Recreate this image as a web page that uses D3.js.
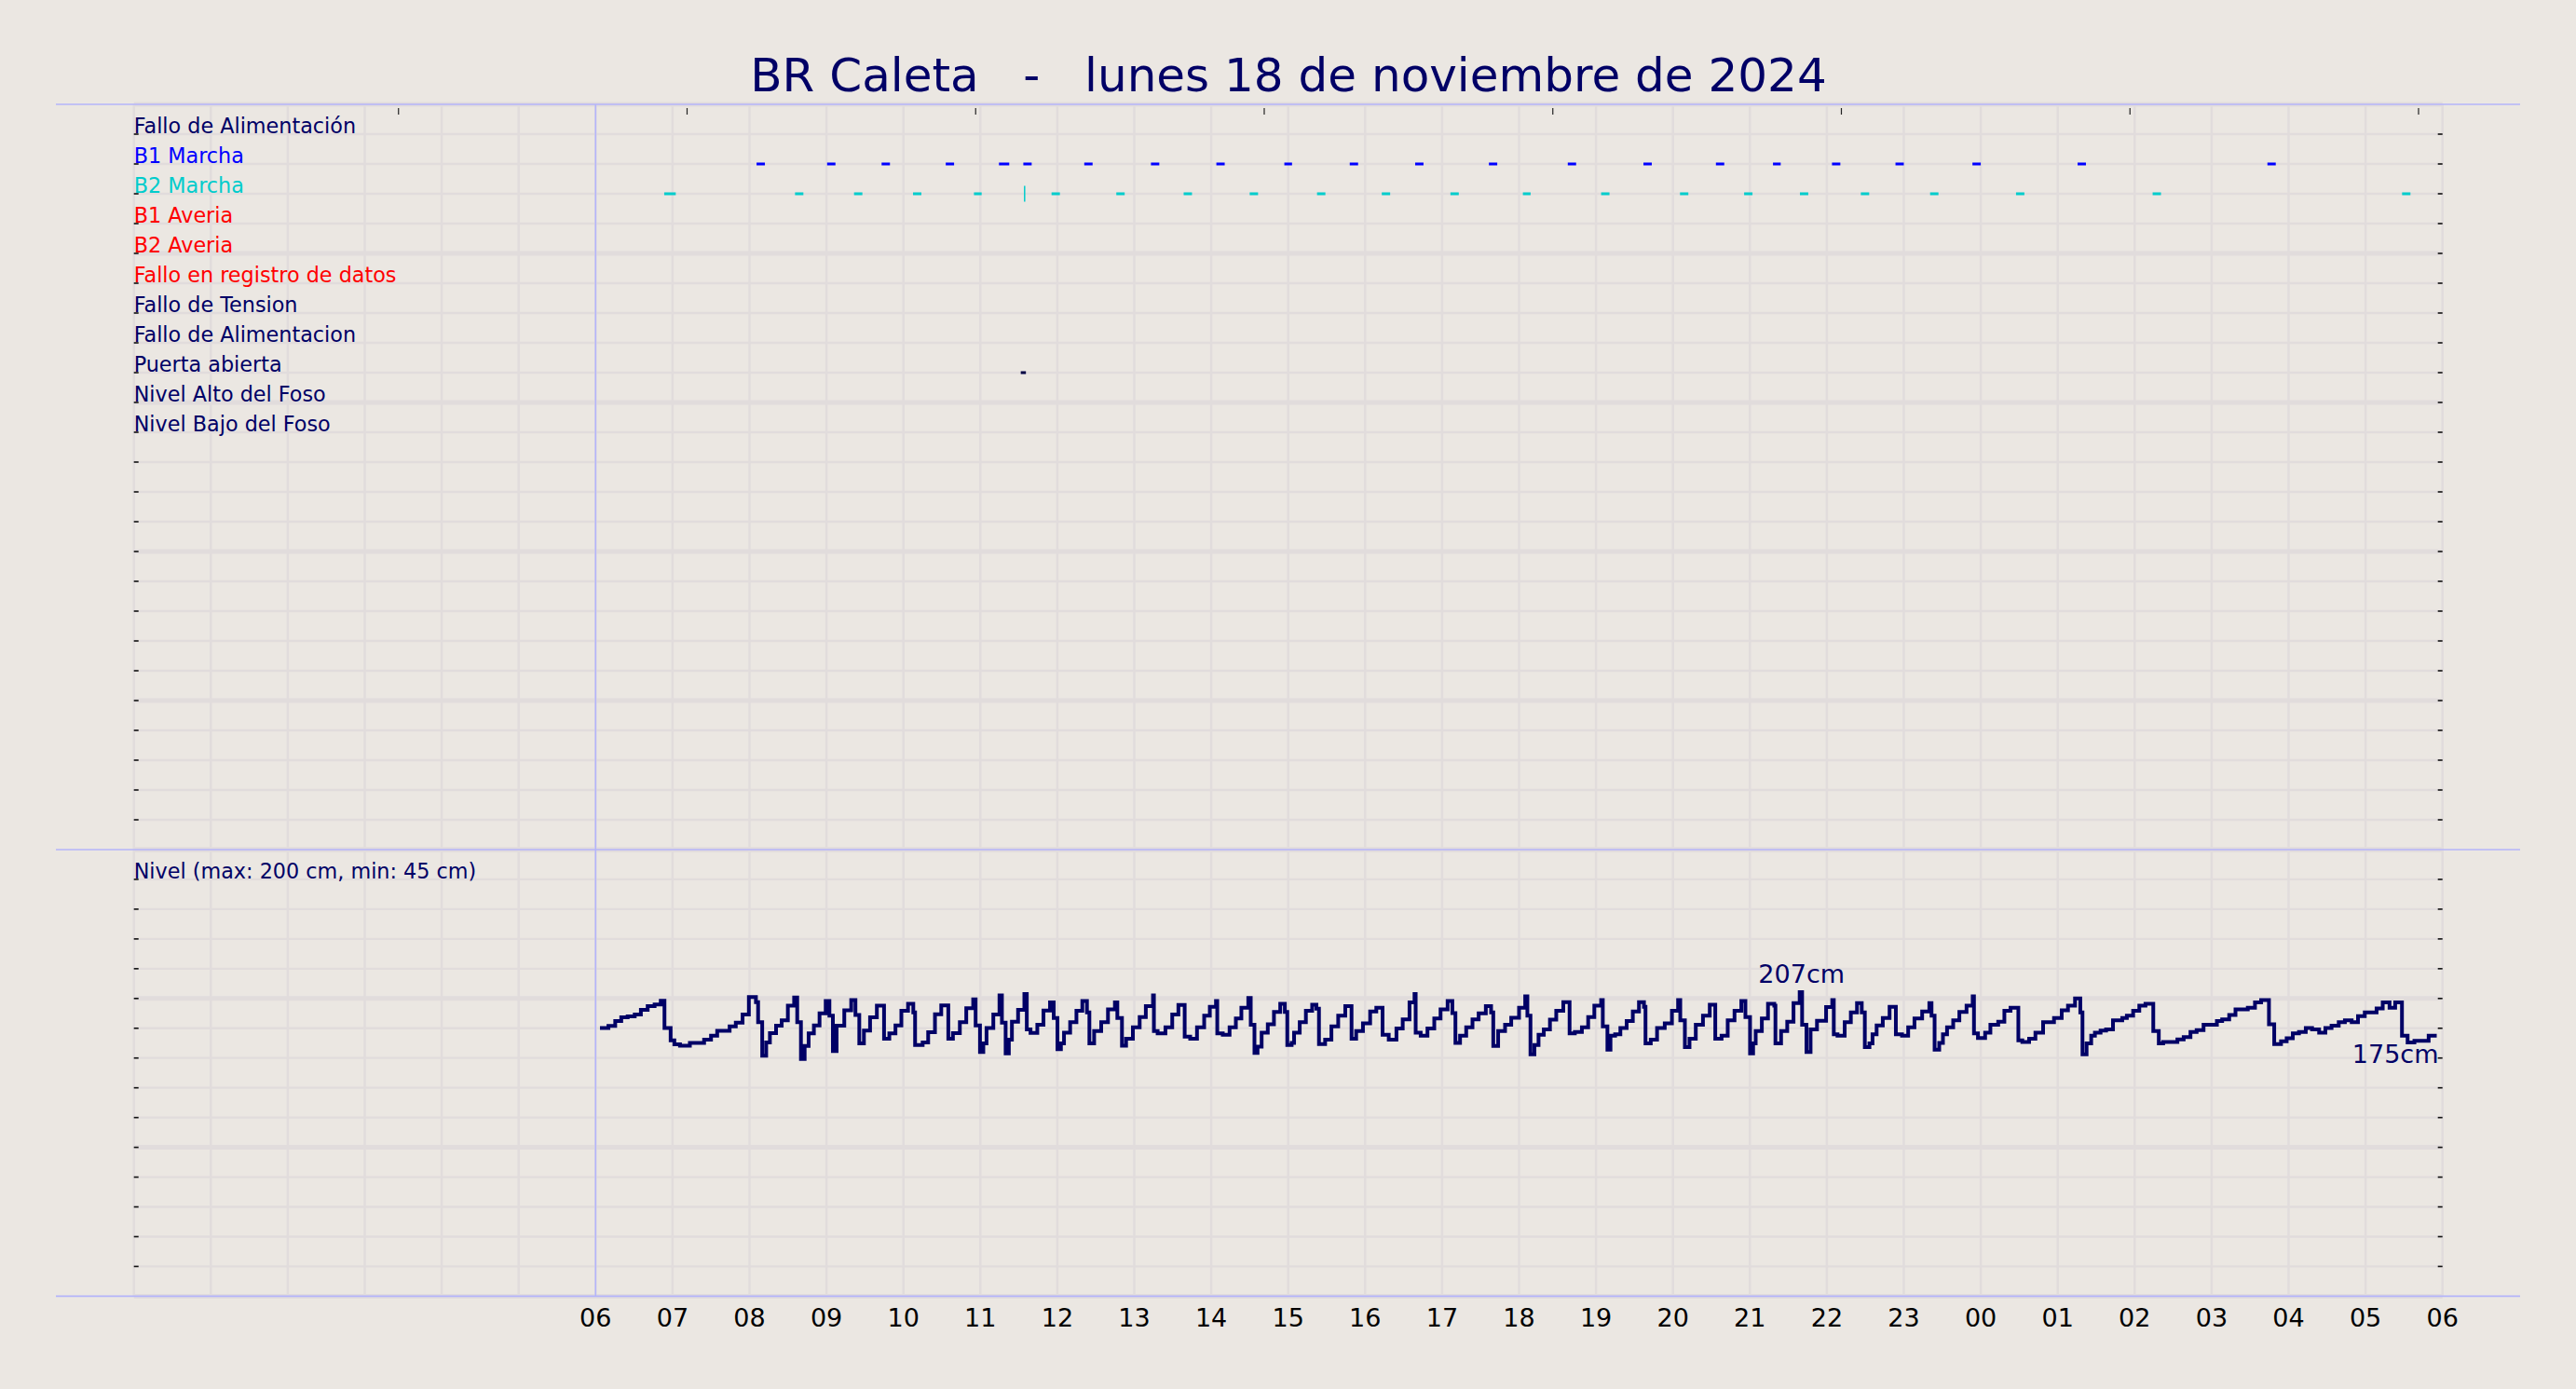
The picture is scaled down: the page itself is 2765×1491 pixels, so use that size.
<!DOCTYPE html>
<html><head><meta charset="utf-8">
<script src="https://cdn.jsdelivr.net/npm/d3@7"></script>
<style>
html,body{margin:0;padding:0;background:#ebe7e2;}
svg{display:block;font-family:"DejaVu Sans",sans-serif;}
</style></head><body>
<svg id="chart" width="2765" height="1491"></svg>
<script>
// ---------------- DATA ----------------
const titleText = "BR Caleta   -   lunes 18 de noviembre de 2024";
const signalLabels = ["Fallo de Alimentación","B1 Marcha","B2 Marcha","B1 Averia","B2 Averia",
  "Fallo en registro de datos","Fallo de Tension","Fallo de Alimentacion","Puerta abierta",
  "Nivel Alto del Foso","Nivel Bajo del Foso"];
const signalColors = ["#000066","#0000ff","#00cccc","#ff0000","#ff0000","#ff0000",
  "#000066","#000066","#000066","#000066","#000066"];
const hourTickLabels = ["06","07","08","09","10","11","12","13","14","15","16","17","18",
  "19","20","21","22","23","00","01","02","03","04","05","06"];
const topTickValues = [0.917,1.917,2.917,3.917,4.917,5.917,6.917,7.917];

// events: minutes after 06:00
const b1Start = [125.5,180.5,223,273,314.5,333.5,381,433,484,537,588,639,696.5,758,817,873.5,918,964,1013.5,1073.5,1155.5,1303.5];
const b1End   = [132,187,229.5,279.5,322.5,340,387.5,439.5,490.5,543,594.5,645.5,703,764.5,823.5,880,924,970.5,1020,1080,1162,1310];
const b2Start = [53.5,155.5,201.5,247.5,295,334.5,355.5,406,458.5,510,562.5,613,666.5,723,784,845.5,895.5,939,986.5,1040.5,1107.5,1214,1408.5];
const b2End   = [62.5,162,208,254,301,334.5,362,412.5,465,516.5,569,619.5,673,729,790.5,852,902,945.5,993,1047,1114,1220.5,1415];
const doorStart = [331.5];
const doorEnd   = [335.5];

// level (cm), change points in minutes after 06:00
const levelMin = [3.4,10,15.3,20,25,30.5,35.3,40.6,46,50.8,53.7,58.5,61.4,65.8,73.5,84.6,90,94.8,104.5,109.3,114.6,119.5,125,126.7,129.9,133,135.9,140.7,145.1,149.9,154.8,157.2,160.1,163,166.1,170.2,174.6,179.4,182.3,185,187.9,193.9,199.3,202.6,205.6,209.2,214,219.3,224.9,229,233.8,238.4,
243.6,247.7,249.1,255,259.3,264.6,269.5,275,278.6,284,289,294.4,296.3,299.7,302.3,304.8,310.1,314.9,316.8,319.7,322.2,324.6,329.4,334.3,336.2,339.1,344.4,349.2,354.3,357.2,360.1,362.8,365.2,370,374.9,379.5,383.1,385,388.7,394.2,399.5,404.9,406.8,410.4,413.6,418.9,424.2,429,434.6,435.3,438.2,444.3,449.6,454.4,459.3,463.6,468.9,474.5,
478.9,483.7,484.7,489,494.3,499.2,503.5,508.9,510.8,513.7,516.1,519.3,524.1,528.9,533.8,537.4,539.3,542.7,544.6,549,553.8,558.7,562,564,568.8,573.7,579,584.5,589.4,593,598.3,603.9,608.7,613.6,618.4,624.4,629.3,634.6,638.5,639.4,643.3,648.6,653.9,658.8,664.3,668,670.4,674,678.8,683.7,688.5,694.1,698.2,699.9,703.7,709.1,713.9,
720,724.8,726.5,728.9,732,735.2,739.3,744.1,749,754.5,759.4,763.5,769,773.9,778.7,784,785.3,788.9,791.3,794.9,799,803.9,808.7,813.5,817.4,818.6,822.7,827.6,833.6,839.2,844,845.7,849.3,852.9,857.8,863.4,868.7,873,877.9,882.7,888,893.3,896.5,900.1,902.5,904.5,909.3,914.1,919,919.9,924.3,929.1,934,938.8,940.7,944.1,947.3,952.3,
959.4,964.2,965.4,968.3,973.9,978.7,983.5,987.2,989.6,993.2,995.6,998.8,1003.6,1008.9,1013.8,1018.6,1023.4,1028.3,1034.3,1039.9,1041.6,1044,1047.6,1050.5,1053.7,1058.5,1063.3,1068.9,1073.7,1074.7,1077.8,1083.4,1087.5,1093.6,1098.4,1103.2,1109.3,1112.4,1117.7,1122.6,1128.6,1137.1,1143.1,1148,1153.5,1157.6,1159.3,1162.5,1166.1,1169,1173.4,1177.7,1183.1,1190.3,
1193.9,1198.8,1203.6,1208.4,1214.5,1218.8,1222.2,1233.3,1238.2,1243.5,1248.3,1253.7,1264.1,1268.2,1273.7,1278.6,1288.2,1293.8,1298.6,1304.7,1308.8,1314.1,1318.5,1323.3,1328.1,1333.4,1338.3,1343.8,1348.7,1353.5,1359.1,1363.9,1369.2,1374.1,1379.4,1388.6,1393.4,1398.7,1403.1,1408.4,1412.8,1418.1,1429.2,1435.5];
const levelCm = [180.2,181.5,184.8,187.3,188,189.2,192.3,194.8,196,198.5,180.2,171.9,169.2,168.3,170.2,172.3,175,178.3,181.3,183.8,189.2,201,197.5,184,161.5,170.4,176.7,181.7,185.4,195.2,200.6,184,159.4,168.1,176.5,181.9,190,198.3,188.5,164.6,181.7,192.1,199,189,169.8,178.5,187.3,195.2,172.9,176.5,181.9,191.7,
196.5,190.6,168.8,170.4,177.3,189.4,195.4,172.9,176.7,184,193.5,199.4,181.9,164,169.8,180.2,189.2,202,183.8,163.1,172.3,184.4,192.3,203,179.2,176.9,182.3,191.9,197.3,186.9,166,169.8,177.1,184,191.7,198.3,190.6,169.8,178.1,184,192.7,197.3,186.9,168.3,172.9,180.6,187.5,194.8,202,178.1,176.5,180.6,189.2,195.6,174.4,172.9,180.6,188.5,
194.4,198.3,176.5,175.6,180.6,186.5,193.8,200.4,182.3,163.5,167.7,177.1,182.7,191,196.5,191,168.8,170.2,177.1,184,191.7,195.8,193.1,169.4,172.3,181.3,188.5,194.8,172.9,178.1,183.3,191.3,193.8,175.6,172.3,179.8,186,197.3,203,177.1,175,179.8,186.5,192.7,198.3,190.2,170.2,175,180.6,186,190,194.8,190.6,168.1,178.1,182.3,187.1,
193.8,201.5,188.5,162.5,168.8,175.6,179.2,185.8,191.7,197.5,176.5,177.5,180.6,187.5,195.2,199,181.3,165.6,175,176,180.2,184.8,191.3,197.5,194.4,169.8,172.3,180.2,183.3,191.7,199,185.4,167.3,172.9,182.3,188.5,195.8,172.9,175,185.4,191.7,198.3,187.5,163.1,169.8,178.1,186.5,196.5,195.2,169.8,178.1,184.4,196.9,204.2,182.3,164,179.2,185,
194.2,199,176,175,184,190.6,196.9,190.6,167.3,169.8,176,181.9,186.9,194.4,176,175,180.6,186.5,191.3,196.9,188.5,165.6,170.2,176,180.6,185.4,191,195.2,201.5,176.5,173.5,177.1,182.3,184.4,191.7,193.8,171.9,170.8,172.9,177.1,184,186.9,192.1,195.2,200,190.6,162.5,169.8,175,177.1,178.5,179.2,185.4,186.9,
188.5,191.7,195.2,196.5,178.1,169.8,170.8,172.5,174,177.5,178.8,182.3,184.8,186,189,192.7,193.8,197.3,199,182.7,169.4,171.3,173.3,176.5,177.5,180.2,179.2,177.1,180.2,181.7,184,185.4,184,188.1,190.6,193.3,197.3,193.8,197.3,175,170.4,171.5,175,175];
const levelCaption = "Nivel (max: 200 cm, min: 45 cm)";
const levelMaxText = "207cm";
const levelLastText = "175cm";

// ---------------- CHART ----------------
const svg = d3.select("#chart");
const NAVY = "#000066", GRID = "#e1dcdc", FRAME = "#b4b4fa";
const X0 = 143.7, X1 = 2621.7;
const dayStart = new Date(2024,10,18,0,0,0);
const seriesStart = new Date(2024,10,18,6,0,0);
const dayEnd = new Date(2024,10,19,6,0,0);
const atMin = m => new Date(seriesStart.getTime() + m*60000);

const x = d3.scaleTime().domain([dayStart, dayEnd]).range([X0, X1]);
const xTop = d3.scaleLinear().domain([0, 8]).range([X0, X1]);
const yEv = d3.scaleLinear().domain([0, 25]).range([912, 112]);
const yLv = d3.scaleLinear().domain([0, 300]).range([1391.4, 912]);

svg.append("rect").attr("width",2765).attr("height",1491).attr("fill","#ebe7e2");

// grid
const g = svg.append("g");
const hours = x.ticks(d3.timeHour.every(1));
g.selectAll("line.vg").data(hours).join("line")
  .attr("x1", d=>x(d)).attr("x2", d=>x(d))
  .attr("y1", yEv(25)).attr("y2", yLv(0))
  .attr("stroke", GRID).attr("stroke-width", 2.5);
g.selectAll("line.hg1").data(d3.range(0, 26)).join("line")
  .attr("x1", X0).attr("x2", X1)
  .attr("y1", d=>yEv(d)).attr("y2", d=>yEv(d))
  .attr("stroke", GRID).attr("stroke-width", d => d%5===0 ? 5 : 2.3);
g.selectAll("line.hg2").data(d3.range(0, 301, 20)).join("line")
  .attr("x1", X0).attr("x2", X1)
  .attr("y1", d=>yLv(d)).attr("y2", d=>yLv(d))
  .attr("stroke", GRID).attr("stroke-width", d => d%100===0 ? 5 : 2.3);

// frame lines
svg.selectAll("line.frame").data([yEv(25), yEv(0), yLv(0)]).join("line")
  .attr("x1", 60).attr("x2", 2705).attr("y1", d=>d).attr("y2", d=>d)
  .attr("stroke", FRAME).attr("stroke-width", 1.6);
svg.append("line").attr("x1", x(seriesStart)).attr("x2", x(seriesStart))
  .attr("y1", yEv(25)).attr("y2", yLv(0)).attr("stroke", FRAME).attr("stroke-width", 1.6);

// top ticks
svg.selectAll("line.tt").data(topTickValues).join("line")
  .attr("x1", d=>xTop(d)).attr("x2", d=>xTop(d))
  .attr("y1", yEv(25)+4).attr("y2", yEv(25)+11)
  .attr("stroke", "#222").attr("stroke-width", 1.2);

// side ticks
const sideTicks = d3.range(1, 25).map(yEv).concat(d3.range(20, 300, 20).map(yLv));
svg.selectAll("line.lt").data(sideTicks).join("line")
  .attr("x1", X0).attr("x2", X0+5).attr("y1", d=>d).attr("y2", d=>d)
  .attr("stroke", "#111").attr("stroke-width", 1.6);
svg.selectAll("line.rt").data(sideTicks).join("line")
  .attr("x1", X1-5).attr("x2", X1).attr("y1", d=>d).attr("y2", d=>d)
  .attr("stroke", "#111").attr("stroke-width", 1.6);

// title
svg.append("text").attr("x", 1383).attr("y", 97.5)
  .attr("text-anchor","middle").attr("font-size", 50).attr("fill", NAVY)
  .style("white-space","pre").attr("xml:space","preserve").text(titleText);

// row labels
svg.selectAll("text.lab").data(signalLabels).join("text")
  .attr("x", X0).attr("y", (d,i)=>yEv(24-i)-1)
  .attr("font-size", 22.3).attr("fill", (d,i)=>signalColors[i]).text(d=>d);
svg.append("text").attr("x", X0).attr("y", yLv(280)-1)
  .attr("font-size", 22.3).attr("fill", NAVY).text(levelCaption);

// events
function drawEvents(starts, ends, row, color){
  const data = starts.map((s,i)=>({s, e: ends[i]}));
  const grp = svg.append("g");
  grp.selectAll("rect").data(data.filter(d=>d.e>d.s)).join("rect")
    .attr("x", d=>x(atMin(d.s))).attr("width", d=>x(atMin(d.e))-x(atMin(d.s)))
    .attr("y", yEv(row)-1.5).attr("height", 3).attr("fill", color);
  grp.selectAll("line").data(data.filter(d=>d.e<=d.s)).join("line")
    .attr("x1", d=>x(atMin(d.s))).attr("x2", d=>x(atMin(d.s)))
    .attr("y1", yEv(row)-8.5).attr("y2", yEv(row)+8.5)
    .attr("stroke", color).attr("stroke-width", 1.5);
}
drawEvents(b1Start, b1End, 24-1, signalColors[1]);
drawEvents(b2Start, b2End, 24-2, signalColors[2]);
drawEvents(doorStart, doorEnd, 24-8, "#000044");

// level line
const levelData = levelMin.map((m,i)=>({t: atMin(m), v: levelCm[i]}));
svg.append("path").datum(levelData)
  .attr("d", d3.line().x(d=>x(d.t)).y(d=>yLv(d.v)).curve(d3.curveStepAfter))
  .attr("fill","none").attr("stroke", NAVY).attr("stroke-width", 4)
  .attr("stroke-linejoin","miter");

// annotations
const maxPt = levelData.reduce((a,b)=> b.v>a.v ? b : a);
const lastPt = levelData[levelData.length-1];
svg.append("text").attr("x", x(maxPt.t)+2).attr("y", yLv(maxPt.v)-10)
  .attr("text-anchor","middle").attr("font-size", 27).attr("fill", NAVY).text(levelMaxText);
svg.append("text").attr("x", x(lastPt.t)+2).attr("y", yLv(lastPt.v)+29)
  .attr("text-anchor","end").attr("font-size", 27).attr("fill", NAVY).text(levelLastText);

// x labels
svg.selectAll("text.xl").data(hourTickLabels).join("text")
  .attr("x", (d,i)=>x(d3.timeHour.offset(seriesStart, i)))
  .attr("y", 1424).attr("text-anchor","middle").attr("font-size", 27)
  .attr("fill", "#000").text(d=>d);
</script>
</body></html>
